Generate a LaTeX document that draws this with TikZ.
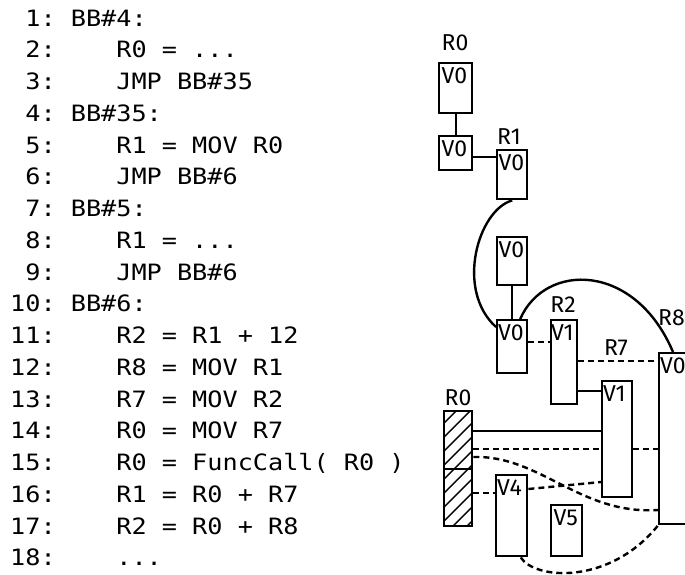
\documentclass[tikz,border=0pt]{standalone}
\usepackage{fontspec}
\setmonofont[FakeStretch=1.12]{DejaVu Sans Mono}
\newfontfamily\mylabfont{Fira Sans}
\begin{document}
\begin{tikzpicture}[x=1pt,y=-1pt,
  code/.style={anchor=base west, inner sep=0pt, font=\ttfamily\fontsize{22.5}{27}\selectfont},
  box/.style={draw, line width=2.4pt, rectangle, inner sep=0pt, anchor=north west},
  lab/.style={font=\mylabfont\fontsize{23}{27}\selectfont, inner sep=0pt},
  vlab/.style={lab, anchor=north west},
  rlab/.style={lab, anchor=base},
  conn/.style={line width=2.4pt},
  dconn/.style={line width=2.4pt, dash pattern=on 6pt off 4pt},
  hatch/.style={line width=1.4pt}]
\useasboundingbox (0,0) rectangle (685,574);

% code listing
\node[code] (l1)  at (10,26.00)  {~1:~BB\#4:};
\node[code] (l2)  at (10,57.76)  {~2:~~~~R0~=~...};
\node[code] (l3)  at (10,89.52)  {~3:~~~~JMP~BB\#35};
\node[code] (l4)  at (10,121.28) {~4:~BB\#35:};
\node[code] (l5)  at (10,153.04) {~5:~~~~R1~=~MOV~R0};
\node[code] (l6)  at (10,184.80) {~6:~~~~JMP~BB\#6};
\node[code] (l7)  at (10,216.56) {~7:~BB\#5:};
\node[code] (l8)  at (10,248.32) {~8:~~~~R1~=~...};
\node[code] (l9)  at (10,280.08) {~9:~~~~JMP~BB\#6};
\node[code] (l10) at (10,311.84) {10:~BB\#6:};
\node[code] (l11) at (10,343.60) {11:~~~~R2~=~R1~+~12};
\node[code] (l12) at (10,375.36) {12:~~~~R8~=~MOV~R1};
\node[code] (l13) at (10,407.12) {13:~~~~R7~=~MOV~R2};
\node[code] (l14) at (10,438.88) {14:~~~~R0~=~MOV~R7};
\node[code] (l15) at (10,470.64) {15:~~~~R0~=~FuncCall(~R0~)};
\node[code] (l16) at (10,502.40) {16:~~~~R1~=~R0~+~R7};
\node[code] (l17) at (10,534.16) {17:~~~~R2~=~R0~+~R8};
\node[code] (l18) at (10,565.92) {18:~~~~...};

% hatching of lower R0
\begin{scope}
  \clip (443,410) rectangle (471,525);
  \foreach \c in {853,867,...,1010} \draw[hatch] ({\c-540},540) -- ({\c-390},390);
\end{scope}

% boxes
\node[box, minimum width=33pt, minimum height=50pt] (A) at (438,62) {};
\node[box, minimum width=33pt, minimum height=34pt] (B) at (438,135) {};
\node[box, minimum width=30pt, minimum height=49pt] (C) at (496,149) {};
\node[box, minimum width=30pt, minimum height=48pt] (D) at (496,236) {};
\node[box, minimum width=30pt, minimum height=53pt] (E) at (496,319) {};
\node[box, minimum width=26pt, minimum height=84pt] (F) at (550,319) {};
\node[box, minimum width=30pt, minimum height=116pt] (G) at (601,380) {};
\node[box, minimum width=50pt, minimum height=171pt] (H) at (658,352) {};
\node[box, minimum width=28pt, minimum height=58pt] (HA) at (443,410) {};
\node[box, minimum width=28pt, minimum height=57pt] (HB) at (443,468) {};
\node[box, minimum width=31pt, minimum height=81pt] (I) at (495,474) {};
\node[box, minimum width=31pt, minimum height=51pt] (J) at (550,504) {};

% value labels
\node[vlab] (tA) at ([xshift=3.5pt,yshift=-5.5pt]A.north west) {V0};
\node[vlab] (tB) at ([xshift=3.5pt,yshift=-5.5pt]B.north west) {V0};
\node[vlab] (tC) at ([xshift=2.5pt,yshift=-5.5pt]C.north west) {V0};
\node[vlab] (tD) at ([xshift=2.5pt,yshift=-5.5pt]D.north west) {V0};
\node[vlab] (tE) at ([xshift=2pt,yshift=-5.5pt]E.north west) {V0};
\node[vlab] (tF) at ([xshift=1pt,yshift=-5.5pt]F.north west) {V1};
\node[vlab] (tG) at ([xshift=2pt,yshift=-5.5pt]G.north west) {V1};
\node[vlab] (tH) at ([xshift=2pt,yshift=-5.5pt]H.north west) {V0};
\node[vlab] (tI) at ([xshift=2pt,yshift=-5.5pt]I.north west) {V4};
\node[vlab] (tJ) at ([xshift=3.5pt,yshift=-5.5pt]J.north west) {V5};

% register labels
\node[rlab] (r0a) at (455,50) {R0};
\node[rlab] (r1)  at (509,144) {R1};
\node[rlab] (r2)  at (563,312) {R2};
\node[rlab] (r7)  at (616,355) {R7};
\node[rlab] (r8)  at (671.5,325) {R8};
\node[rlab] (r0b) at (458,405) {R0};

% connectors
\draw[conn] (A.south) -- (B.north);
\draw[conn] (B.east |- 0,157) -- (C.west |- 0,157);
\draw[conn] (C.south) .. controls (478,210) and (455,290) .. ([yshift=-8pt]E.north west);
\draw[conn] (D.south) -- (E.north);
\draw[conn] ([xshift=8pt]E.north) .. controls (545,262) and (635,262) .. ([xshift=15pt]H.north west);
\draw[dconn] (E.east |- 0,342) -- (F.west |- 0,342);
\draw[dconn] (F.east |- 0,361) -- (H.west |- 0,361);
\draw[conn] (F.east |- 0,391) -- (G.west |- 0,391);
\draw[conn] (HA.east |- 0,431) -- (G.west |- 0,431);
\draw[dconn] (HA.east |- 0,449) -- (G.west |- 0,449);
\draw[dconn] (G.east |- 0,449) -- (H.west |- 0,449);
\draw[dconn] (HA.east |- 0,457) .. controls (540,455) and (580,515) .. (H.west |- 0,510);
\draw[dconn] (HB.east |- 0,493) -- (I.west |- 0,493);
\draw[dconn] (I.east |- 0,489) -- (G.west |- 0,482);
\draw[dconn] ([xshift=9pt]I.south) .. controls (535,580) and (610,585) .. (H.south west);
\end{tikzpicture}
\end{document}
